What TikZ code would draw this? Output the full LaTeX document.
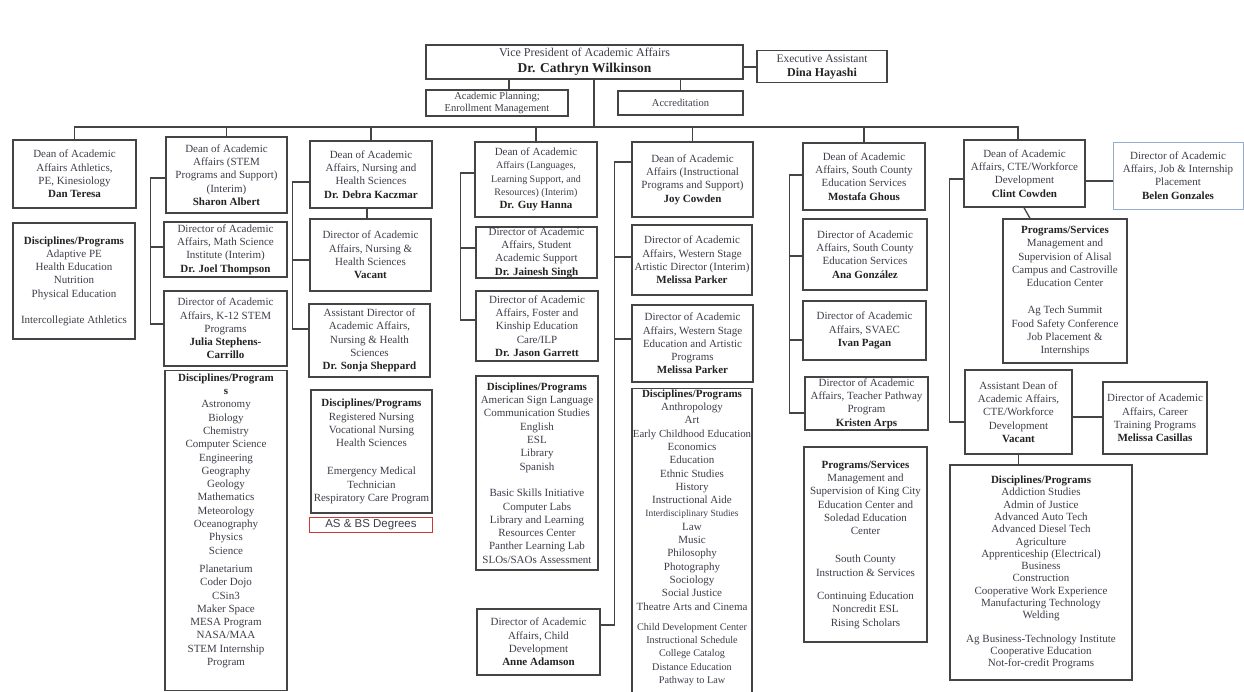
\documentclass[tikz,border=0pt]{standalone}
\usepackage{fontspec}
\setmainfont{Liberation Serif}
\newfontfamily\degreefont{Liberation Sans}
\usetikzlibrary{calc}
\definecolor{linegray}{RGB}{68,68,68}
\definecolor{txtgray}{RGB}{62,62,74}
\definecolor{namegray}{RGB}{35,35,35}
\definecolor{jobblue}{RGB}{150,172,204}
\definecolor{degreered}{RGB}{205,55,55}
\newcommand{\who}[1]{\textcolor{namegray}{\textbf{#1}}}

\begin{document}
\begin{tikzpicture}[x=1pt, y=-1pt,
  unit/.style={draw=linegray, line width=1.3pt, fill=white, text=txtgray, align=center, inner sep=1pt, font=\fontsize{11}{13.3}\selectfont},
  list/.style={unit, anchor=north, inner ysep=3pt},
  link/.style={draw=linegray, line width=1.3pt}]
  \useasboundingbox (0,0) rectangle (1244,691);
  \clip (0,0) rectangle (1244,691);
  \fill[white] (0,0) rectangle (1244,691);

  \node[unit, minimum width=317, minimum height=34, font=\fontsize{12}{16}\selectfont] (vp) at (584.5,62) {Vice President of Academic Affairs\\{\fontsize{13.5}{16}\selectfont\who{Dr. Cathryn Wilkinson}}};
  \node[unit, minimum width=130, minimum height=32, font=\fontsize{11.5}{14}\selectfont] (exec) at (822,66.5) {Executive Assistant\\{\fontsize{12}{14}\selectfont\who{Dina Hayashi}}};
  \node[unit, minimum width=142, minimum height=26, font=\fontsize{10.5}{12}\selectfont] (plan) at (497,103) {Academic Planning;\\Enrollment Management};
  \node[unit, minimum width=125, minimum height=24, font=\fontsize{10.5}{12}\selectfont] (accr) at (680.5,103) {Accreditation};

  \node[unit, minimum width=123, minimum height=68] (a1) at (74.5,174) {Dean of Academic\\Affairs Athletics,\\PE, Kinesiology\\\who{Dan Teresa}};
  \node[unit, minimum width=122, minimum height=116] (a2) at (74,281) {\who{Disciplines/Programs}\\Adaptive PE\\Health Education\\Nutrition\\Physical Education\\[12.7pt]Intercollegiate Athletics};

  \node[unit, minimum width=121, minimum height=76] (b1) at (226.5,175) {Dean of Academic\\Affairs (STEM\\Programs and Support)\\(Interim)\\\who{Sharon Albert}};
  \node[unit, minimum width=123, minimum height=55] (b2) at (225.5,249.5) {Director of Academic\\Affairs, Math Science\\Institute (Interim)\\\who{Dr. Joel Thompson}};
  \node[unit, minimum width=123, minimum height=75] (b3) at (225.5,328.5) {Director of Academic\\Affairs,  K-12 STEM\\Programs\\\who{Julia Stephens-}\\\who{Carrillo}};
  \node[list, minimum width=122, text depth=22pt] (b4) at (226,370) {\who{Disciplines/Program}\\\who{s}\\Astronomy\\Biology\\Chemistry\\Computer Science\\Engineering\\Geography\\Geology\\Mathematics\\Meteorology\\Oceanography\\Physics\\Science\\[5pt]Planetarium\\Coder Dojo\\CSin3\\Maker Space\\MESA Program\\NASA/MAA\\STEM Internship\\Program};

  \node[unit, minimum width=122, minimum height=67] (c1) at (371,174.5) {Dean of Academic\\Affairs, Nursing and\\Health Sciences\\\who{Dr. Debra Kaczmar}};
  \node[unit, minimum width=121, minimum height=72] (c2) at (370.5,255) {Director of Academic\\Affairs, Nursing \&\\Health Sciences\\\who{Vacant}};
  \node[unit, minimum width=121, minimum height=73] (c3) at (369.5,340.5) {Assistant Director of\\Academic Affairs,\\Nursing \& Health\\Sciences\\\who{Dr. Sonja Sheppard}};
  \node[unit, minimum width=121, minimum height=123] (c4) at (371.5,451.5) {\who{Disciplines/Programs}\\Registered Nursing\\Vocational Nursing\\Health Sciences\\[15pt]Emergency Medical\\Technician\\Respiratory Care Program};
  \node[unit, draw=degreered, line width=0.9pt, minimum width=123, minimum height=15, align=left, anchor=west, inner xsep=2pt, font=\degreefont\fontsize{11.5}{13}\selectfont] (degrees) at (309,524.5) {AS \& BS Degrees};

  \node[unit, minimum width=122, minimum height=75] (d1) at (536,179.5) {Dean of Academic\\{\fontsize{10}{13.3}\selectfont Affairs (Languages,}\\{\fontsize{10}{13.3}\selectfont Learning Support, and}\\{\fontsize{10}{13.3}\selectfont Resources) (Interim)}\\\who{Dr. Guy Hanna}};
  \node[unit, minimum width=121, minimum height=51, inner ysep=0pt] (d2) at (536.5,252.5) {Director of Academic\\Affairs, Student\\Academic Support\\\who{Dr. Jainesh Singh}};
  \node[unit, minimum width=122, minimum height=70] (d3) at (537,326) {Director of Academic\\Affairs,  Foster and\\Kinship Education\\Care/ILP\\\who{Dr. Jason Garrett}};
  \node[unit, minimum width=122, minimum height=194] (d4) at (537,473) {\who{Disciplines/Programs}\\American Sign Language\\Communication Studies\\English\\ESL\\Library\\Spanish\\[13.3pt]Basic Skills Initiative\\Computer Labs\\Library and Learning\\Resources Center\\Panther Learning Lab\\SLOs/SAOs Assessment};

  \node[unit, minimum width=121, minimum height=75] (e1) at (692.5,179.5) {Dean of Academic\\Affairs (Instructional\\Programs and Support)\\\who{Joy Cowden}};
  \node[unit, minimum width=120, minimum height=70] (e2) at (692,260) {Director of Academic\\Affairs,  Western Stage\\Artistic Director (Interim)\\\who{Melissa Parker}};
  \node[unit, minimum width=121, minimum height=77] (e3) at (692.5,343.5) {Director of Academic\\Affairs, Western Stage\\Education and Artistic\\Programs\\\who{Melissa Parker}};
  \node[list, minimum width=120, inner ysep=1pt, text depth=16pt] (e4) at (692,388) {\who{Disciplines/Programs}\\Anthropology\\Art\\{\fontsize{10.8}{13.3}\selectfont Early Childhood Education}\\Economics\\Education\\Ethnic Studies\\History\\Instructional Aide\\{\fontsize{9.5}{13.3}\selectfont Interdisciplinary Studies}\\Law\\Music\\Philosophy\\Photography\\Sociology\\Social Justice\\Theatre Arts and Cinema\\[7pt]{\fontsize{10.2}{13.3}\selectfont Child Development Center}\\{\fontsize{10.2}{13.3}\selectfont Instructional Schedule}\\{\fontsize{10.2}{13.3}\selectfont College Catalog}\\{\fontsize{10.2}{13.3}\selectfont Distance Education}\\{\fontsize{10.2}{13.3}\selectfont Pathway to Law}};
  \node[unit, minimum width=123, minimum height=66] (e5) at (538.5,642) {Director of Academic\\Affairs, Child\\Development\\\who{Anne Adamson}};

  \node[unit, minimum width=122, minimum height=67] (f1) at (864,176.5) {Dean  of Academic\\Affairs, South County\\Education Services\\\who{Mostafa Ghous}};
  \node[unit, minimum width=124, minimum height=71] (f2) at (865,254.5) {Director of Academic\\Affairs, South County\\Education Services\\\who{Ana González}};
  \node[unit, minimum width=123, minimum height=59] (f3) at (864.5,330.5) {Director of Academic\\Affairs,  SVAEC\\\who{Ivan Pagan}};
  \node[unit, minimum width=123, minimum height=53, inner ysep=0pt] (f4) at (866.5,403.5) {Director of Academic\\Affairs, Teacher Pathway\\Program\\\who{Kristen Arps}};
  \node[unit, minimum width=123, minimum height=195] (f5) at (865.5,544.5) {\who{Programs/Services}\\Management and\\Supervision of King City\\Education Center and\\Soledad Education\\Center\\[15pt]South County\\Instruction  \& Services\\[10pt]Continuing Education\\Noncredit ESL\\Rising Scholars};

  \node[unit, minimum width=121, minimum height=67] (g1) at (1024.5,173.5) {Dean of Academic\\Affairs, CTE/Workforce\\Development\\\who{Clint Cowden}};
  \node[unit, draw=jobblue, line width=0.9pt, minimum width=130, minimum height=67] (g2) at (1178,175.5) {Director of Academic\\Affairs, Job \& Internship\\Placement\\\who{Belen Gonzales}};
  \node[unit, minimum width=124, minimum height=144] (g3) at (1065,291) {\who{Programs/Services}\\Management and\\Supervision of Alisal\\Campus and Castroville\\Education Center\\[13.7pt]Ag Tech Summit\\Food Safety Conference\\Job Placement \&\\Internships};
  \node[unit, minimum width=107, minimum height=84] (g4) at (1018.5,412) {Assistant Dean of\\Academic Affairs,\\CTE/Workforce\\Development\\\who{Vacant}};
  \node[unit, minimum width=104, minimum height=72] (g5) at (1155,418) {Director of Academic\\Affairs, Career\\Training Programs\\\who{Melissa Casillas}};
  \node[unit, minimum width=182, minimum height=215, font=\fontsize{11}{12.3}\selectfont] (g6) at (1041,572.5) {\who{Disciplines/Programs}\\Addiction Studies\\Admin of Justice\\Advanced  Auto Tech\\Advanced Diesel Tech\\Agriculture\\Apprenticeship (Electrical)\\Business\\Construction\\Cooperative Work Experience\\Manufacturing Technology\\Welding\\[11pt]Ag Business-Technology Institute\\Cooperative Education\\Not-for-credit Programs};

  \coordinate (bus) at (594,127);
  \draw[link] ([yshift=-5pt]vp.east) -- ([yshift=-5pt]vp.east -| exec.west);
  \draw[link] ([xshift=12pt]plan.north) -- ([xshift=12pt]plan.north |- vp.south);
  \draw[link] (accr.north) -- (accr.north |- vp.south);
  \draw[link] ([xshift=9.5pt]vp.south) -- (bus);
  \draw[link] (a1.north) |- ([xshift=-6.5pt]g1.north |- bus) -- ([xshift=-6.5pt]g1.north);
  \foreach \n in {b1,c1,d1,e1,f1}
    \draw[link] (\n.north) -- (\n.north |- bus);

  \draw[link] ([yshift=-3pt]b1.west) -- ++(-15,0) |- ([yshift=4.5pt]b3.west);
  \draw[link] ([yshift=2.5pt]b2.west) -- ++(-13,0);

  \draw[link] ([yshift=-7.5pt]c1.west) -- ++(-17,0) |- ([yshift=11.5pt]c3.west);
  \draw[link] ([yshift=-5pt]c2.west) -- ++(-17,0);
  \draw[link] ([xshift=-4pt]c1.south) -- ([xshift=-4pt]c1.south |- c2.north);

  \draw[link] ([yshift=6.5pt]d1.west) -- ++(-14,0) |- ([yshift=6pt]d3.west);
  \draw[link] ([yshift=4.5pt]d2.west) -- ++(-15,0);

  \draw[link] ([yshift=17.5pt]e1.west) -- ++(-17,0) |- ([yshift=17pt]e5.east);
  \draw[link] ([yshift=3pt]e2.west) -- ++(-17,0);
  \draw[link] ([yshift=4.5pt]e3.west) -- ++(-17,0);

  \draw[link] ([yshift=1.5pt]f1.west) -- ++(-13,0) |- ([yshift=-9.5pt]f4.west);
  \draw[link] ([yshift=-1.5pt]f2.west) -- ++(-13,0);
  \draw[link] ([yshift=-9.5pt]f3.west) -- ++(-13,0);

  \draw[link] ([yshift=-5.5pt]g1.west) -- ++(-14,0) |- ([yshift=-10pt]g4.west);
  \draw[link] ([yshift=-7.5pt]g1.east) -- ([yshift=-7.5pt]g1.east -| g2.west);
  \draw[link] ([xshift=-0.5pt]g1.south) -- ([xshift=-35pt]g3.north);
  \draw[link] ([yshift=-5pt]g4.east) -- ([yshift=-5pt]g4.east -| g5.west);
  \draw[link] (g4.south) -- (g4.south |- g6.north);
\end{tikzpicture}
\end{document}
